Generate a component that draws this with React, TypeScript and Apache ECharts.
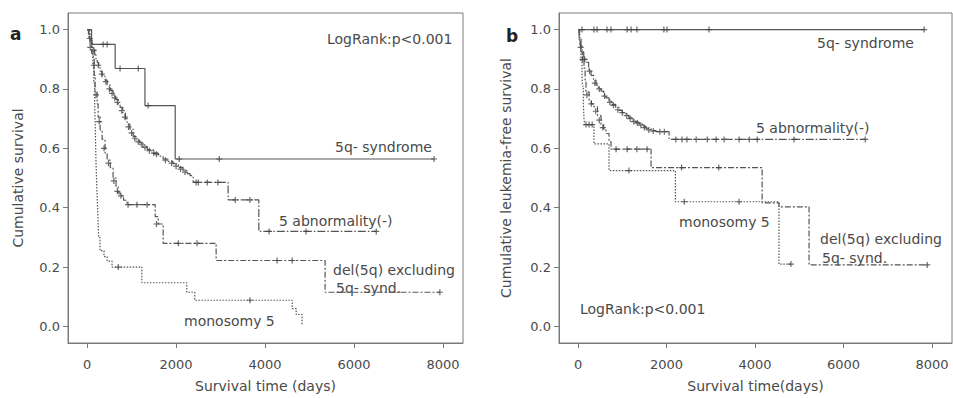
import React, { useEffect, useRef } from "react";
import * as echarts from "echarts";

type P = [number, number];

const xTicks = [0, 2000, 4000, 6000, 8000];
const yTicks = [0, 0.2, 0.4, 0.6, 0.8, 1.0];

// ---------- Panel a: overall survival ----------
const aSyndrome: P[] = [[0, 1], [100, 0.95], [630, 0.869], [1300, 0.744], [1980, 0.564], [7800, 0.564]];
const aSyndromeCens: P[] = [[360, 0.95], [450, 0.95], [740, 0.869], [1150, 0.869], [1370, 0.744], [2070, 0.564], [2970, 0.564], [7800, 0.564]];

const aAbn: P[] = [[0, 1], [30, 0.985], [60, 0.97], [90, 0.96], [112, 0.95], [135, 0.934], [170, 0.915], [200, 0.9], [225, 0.89], [260, 0.875], [292, 0.86], [340, 0.845], [400, 0.83], [449, 0.813], [520, 0.795], [584, 0.78], [640, 0.765], [700, 0.75], [741, 0.738], [800, 0.72], [860, 0.7], [899, 0.682], [960, 0.665], [1034, 0.64], [1100, 0.628], [1180, 0.618], [1258, 0.607], [1350, 0.596], [1483, 0.584], [1600, 0.574], [1708, 0.564], [1820, 0.556], [1932, 0.548], [2050, 0.536], [2157, 0.525], [2250, 0.515], [2314, 0.508], [2382, 0.485], [3170, 0.426], [3860, 0.32], [6500, 0.32]];
const aAbnCens: P[] = [[60, 0.97], [150, 0.93], [250, 0.88], [330, 0.85], [420, 0.825], [500, 0.8], [560, 0.785], [620, 0.77], [680, 0.755], [780, 0.727], [850, 0.705], [930, 0.672], [1000, 0.652], [1070, 0.634], [1150, 0.622], [1230, 0.612], [1300, 0.603], [1400, 0.592], [1500, 0.584], [1560, 0.58], [1760, 0.56], [1900, 0.55], [2000, 0.54], [2100, 0.53], [2200, 0.52], [2450, 0.485], [2500, 0.485], [2700, 0.485], [2940, 0.485], [3330, 0.426], [3660, 0.426], [4090, 0.32], [4920, 0.32], [6500, 0.32]];

const aDel: P[] = [[0, 1], [40, 0.97], [67, 0.945], [100, 0.92], [135, 0.9], [160, 0.846], [180, 0.79], [225, 0.75], [247, 0.705], [292, 0.662], [337, 0.63], [404, 0.584], [450, 0.56], [520, 0.535], [584, 0.5], [650, 0.47], [697, 0.45], [741, 0.44], [820, 0.425], [899, 0.41], [1530, 0.37], [1600, 0.345], [1710, 0.28], [2900, 0.222], [5350, 0.115], [7930, 0.115]];
const aDelCens: P[] = [[70, 0.94], [150, 0.88], [200, 0.78], [270, 0.69], [380, 0.6], [480, 0.55], [600, 0.49], [680, 0.455], [760, 0.44], [920, 0.41], [1120, 0.41], [1350, 0.41], [1560, 0.345], [2050, 0.28], [2470, 0.28], [4270, 0.222], [4610, 0.222], [7930, 0.115]];

const aMono: P[] = [[0, 1], [60, 0.97], [110, 0.93], [130, 0.88], [150, 0.82], [170, 0.75], [180, 0.69], [190, 0.62], [200, 0.55], [215, 0.48], [230, 0.42], [245, 0.36], [260, 0.3], [290, 0.255], [380, 0.235], [450, 0.22], [560, 0.2], [1230, 0.147], [2240, 0.115], [2420, 0.088], [4610, 0.06], [4700, 0.04], [4830, 0.005]];
const aMonoCens: P[] = [[700, 0.2], [3660, 0.088]];

// ---------- Panel b: leukemia-free survival ----------
const bSyndrome: P[] = [[0, 1], [7820, 1]];
const bSyndromeCens: P[] = [[90, 1], [360, 1], [430, 1], [655, 1], [745, 1], [1110, 1], [1200, 1], [1330, 1], [1940, 1], [2010, 1], [2960, 1], [7820, 1]];

const bAbn: P[] = [[0, 1], [23, 0.967], [50, 0.945], [90, 0.925], [130, 0.905], [180, 0.89], [240, 0.865], [294, 0.846], [350, 0.83], [407, 0.813], [460, 0.8], [520, 0.793], [580, 0.78], [633, 0.77], [700, 0.758], [768, 0.748], [850, 0.738], [927, 0.728], [1000, 0.72], [1085, 0.711], [1150, 0.703], [1220, 0.695], [1300, 0.688], [1379, 0.682], [1460, 0.674], [1537, 0.666], [1650, 0.66], [1763, 0.656], [2057, 0.63], [6490, 0.63]];
const bAbnCens: P[] = [[60, 0.94], [150, 0.9], [260, 0.86], [380, 0.82], [480, 0.8], [600, 0.776], [720, 0.755], [800, 0.745], [900, 0.73], [1000, 0.72], [1100, 0.71], [1180, 0.7], [1260, 0.69], [1340, 0.685], [1420, 0.678], [1500, 0.67], [1600, 0.662], [1700, 0.658], [1850, 0.656], [1950, 0.656], [2210, 0.63], [2350, 0.63], [2460, 0.63], [2670, 0.63], [2920, 0.63], [3120, 0.63], [3300, 0.63], [3640, 0.63], [3870, 0.63], [4050, 0.63], [4880, 0.63], [6490, 0.63]];

const bDel: P[] = [[0, 1], [30, 0.97], [68, 0.925], [100, 0.9], [135, 0.87], [160, 0.83], [180, 0.79], [250, 0.76], [300, 0.75], [360, 0.74], [440, 0.71], [520, 0.68], [580, 0.665], [633, 0.65], [700, 0.623], [745, 0.597], [1650, 0.535], [4160, 0.416], [4540, 0.403], [5220, 0.207], [7890, 0.207]];
const bDelCens: P[] = [[100, 0.9], [200, 0.78], [300, 0.75], [400, 0.725], [480, 0.695], [560, 0.67], [860, 0.597], [1110, 0.597], [1330, 0.597], [1560, 0.597], [2340, 0.535], [3180, 0.535], [7890, 0.207]];

const bMono: P[] = [[0, 1], [40, 0.95], [68, 0.89], [90, 0.85], [100, 0.81], [120, 0.75], [135, 0.7], [150, 0.68], [360, 0.615], [700, 0.525], [2200, 0.42], [4540, 0.21], [4810, 0.21]];
const bMonoCens: P[] = [[180, 0.68], [250, 0.68], [320, 0.68], [1150, 0.525], [2400, 0.42], [3640, 0.42], [4810, 0.21]];

const FONT = "DejaVu Sans";
const TEXT = "#4a4a4a";
const LINE = "#555";
const AXIS = "#7a7a7a";
const PLUS = "path://M4,0H6V10H4ZM0,4H10V6H0Z";

function stepSeries(data: P[], idx: number, dash: any, width = 1.2) {
  return {
    type: "line",
    xAxisIndex: idx,
    yAxisIndex: idx,
    data,
    step: "end",
    showSymbol: false,
    symbol: "none",
    lineStyle: { color: LINE, width, type: dash },
    silent: true,
    z: 2,
  };
}
function censSeries(data: P[], idx: number) {
  return {
    type: "scatter",
    xAxisIndex: idx,
    yAxisIndex: idx,
    data,
    symbol: PLUS,
    symbolSize: 6,
    itemStyle: { color: "#444" },
    silent: true,
    z: 3,
  };
}

function xAxis(idx: number, name: string) {
  return {
    type: "value",
    gridIndex: idx,
    min: -430,
    max: 8450,
    name,
    nameLocation: "middle",
    nameGap: 36,
    nameTextStyle: { fontFamily: FONT, fontSize: 14, color: TEXT },
    axisLine: { show: true, onZero: false, lineStyle: { color: AXIS, width: 1 } },
    axisTick: { show: true, length: 5, customValues: xTicks, lineStyle: { color: AXIS } },
    axisLabel: { customValues: xTicks, margin: 15, fontFamily: FONT, fontSize: 13, color: TEXT, formatter: (v: number) => String(v) },
    splitLine: { show: false },
  };
}
function yAxis(idx: number, name: string, gap: number) {
  return {
    type: "value",
    gridIndex: idx,
    min: -0.056,
    max: 1.056,
    name,
    nameLocation: "middle",
    nameGap: gap,
    nameTextStyle: { fontFamily: FONT, fontSize: 14, color: TEXT },
    axisLine: { show: true, onZero: false, lineStyle: { color: AXIS, width: 1 } },
    axisTick: { show: true, length: 5, customValues: yTicks, lineStyle: { color: AXIS } },
    axisLabel: { customValues: yTicks, margin: 8, fontFamily: FONT, fontSize: 13, color: TEXT, formatter: (v: number) => v.toFixed(1) },
    splitLine: { show: false },
  };
}

function label(text: string, x: number, y: number, opts: any = {}) {
  return {
    type: "text",
    x,
    y,
    silent: true,
    style: { text, fill: TEXT, fontFamily: FONT, fontSize: 14, verticalAlign: "middle", align: "left", ...opts },
  };
}

const DOT = [1.5, 1.5];
const DASHDOT = [8, 2, 1.5, 2];
const DASH2 = [6, 2, 2, 2];

export default function App() {
  const ref = useRef<HTMLDivElement>(null);
  useEffect(() => {
    const chart = echarts.init(ref.current!, null, { renderer: "svg" });
    chart.setOption({
      animation: false,
      backgroundColor: "#fff",
      grid: [
        { left: 68, top: 13, width: 395, height: 339, show: true, borderColor: AXIS, borderWidth: 1 },
        { left: 559, top: 13, width: 393, height: 339, show: true, borderColor: AXIS, borderWidth: 1 },
      ],
      xAxis: [xAxis(0, "Survival time (days)"), xAxis(1, "Survival time(days)")],
      yAxis: [yAxis(0, "Cumulative survival", 43), yAxis(1, "Cumulative leukemia-free survival", 46)],
      series: [
        stepSeries(aSyndrome, 0, "solid"),
        censSeries(aSyndromeCens, 0),
        stepSeries(aAbn, 0, DASHDOT),
        censSeries(aAbnCens, 0),
        stepSeries(aDel, 0, DASH2),
        censSeries(aDelCens, 0),
        stepSeries(aMono, 0, DOT),
        censSeries(aMonoCens, 0),
        stepSeries(bSyndrome, 1, "solid"),
        censSeries(bSyndromeCens, 1),
        stepSeries(bAbn, 1, DASHDOT),
        censSeries(bAbnCens, 1),
        stepSeries(bDel, 1, DASH2),
        censSeries(bDelCens, 1),
        stepSeries(bMono, 1, DOT),
        censSeries(bMonoCens, 1),
      ],
      graphic: [
        label("a", 10, 25, { fontWeight: "bold", fontSize: 17, verticalAlign: "alphabetic", fill: "#222" }),
        label("b", 506, 27, { fontWeight: "bold", fontSize: 17, verticalAlign: "alphabetic", fill: "#222" }),
        label("LogRank:p<0.001", 327, 39),
        label("5q- syndrome", 335, 147),
        label("5 abnormality(-)", 279, 221),
        label("del(5q) excluding", 333, 270),
        label("5q- synd.", 336, 288),
        label("monosomy 5", 184, 321),
        label("5q- syndrome", 817, 43),
        label("5 abnormality(-)", 756, 128),
        label("monosomy 5", 679, 222),
        label("del(5q) excluding", 820, 239),
        label("5q- synd.", 822, 258),
        label("LogRank:p<0.001", 580, 309),
      ],
    });
    return () => chart.dispose();
  }, []);
  return (
    <div
      ref={ref}
      style={{ position: "fixed", left: 0, top: 0, width: 953, height: 398, background: "#fff" }}
    />
  );
}
